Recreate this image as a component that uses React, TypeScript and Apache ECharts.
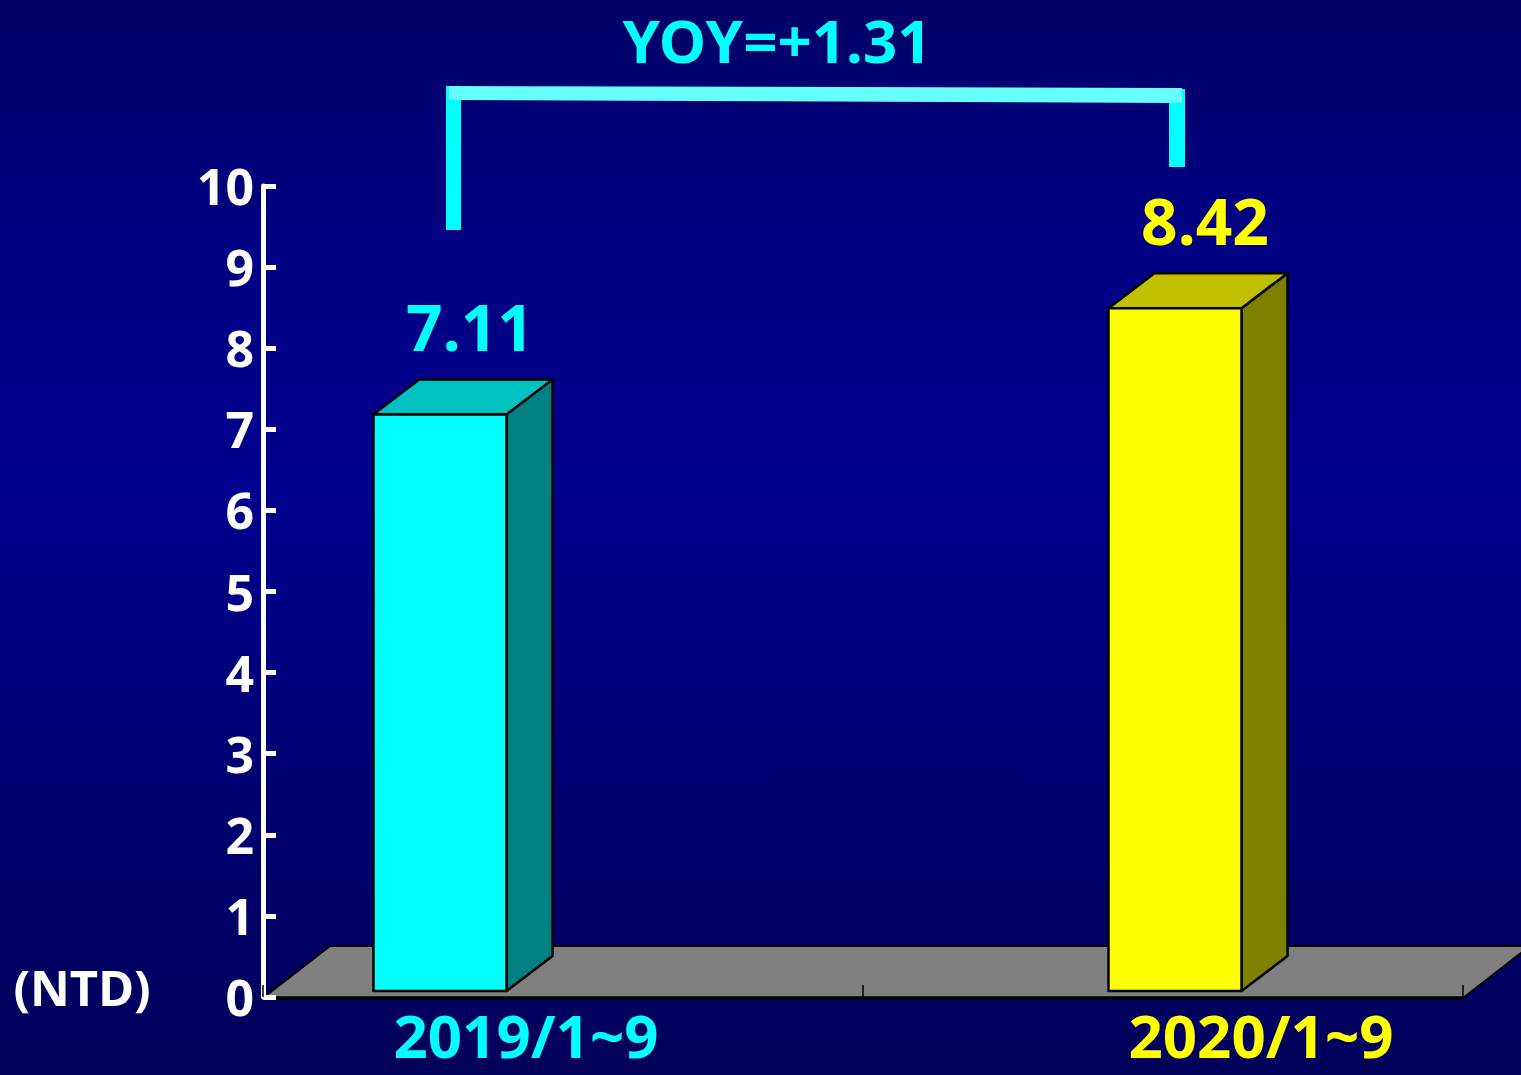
import React, { useEffect, useRef } from "react";
import * as echarts from "echarts";

// ---- data ----
const categories: string[] = ["2019/1~9", "2020/1~9"];
const values: number[] = [7.11, 8.42];
const yMin = 0;
const yMax = 10;
const yInterval = 1;
const unitLabel = "(NTD)";
const yoyLabel = "YOY=+" + (values[1] - values[0]).toFixed(2);

// ---- styles ----
const frontColors = ["#00FFFF", "#FFFF00"];
const topColors = ["#00C0C0", "#C0C000"];
const sideColors = ["#008080", "#808000"];
const labelColors = ["#00FFFF", "#FFFF00"];
const FONT = "'Noto Sans', 'DejaVu Sans', sans-serif";

const DX = 46; // 3D depth offset x
const DY = 35; // 3D depth offset y
const LIFT = 6; // bars set back from floor front edge
const FDX = 67; // floor depth
const FDY = 52;

export default function App() {
  const ref = useRef<HTMLDivElement>(null);

  useEffect(() => {
    document.body.style.margin = "0";
    if (!ref.current) return;
    const chart = echarts.init(ref.current, undefined, { renderer: "svg" });

    const bg = new echarts.graphic.LinearGradient(0, 0, 0, 1, [
      { offset: 0, color: "#000066" },
      { offset: 0.2, color: "#000080" },
      { offset: 0.45, color: "#00008F" },
      { offset: 0.75, color: "#000070" },
      { offset: 1, color: "#00005A" },
    ]);

    const option: any = {
      animation: false,
      backgroundColor: bg,
      grid: [
        { left: 263, top: 186, width: 1200, bottom: 78 },
        { left: 440, top: 186, width: 735, bottom: 78 },
      ],
      xAxis: [
        {
          type: "category",
          gridIndex: 0,
          data: categories,
          boundaryGap: true,
          z: 10,
          axisLine: { show: false },
          axisTick: { show: true, inside: true, length: 12, lineStyle: { color: "#000", width: 1.5 } },
          axisLabel: { show: false },
          splitLine: { show: false },
        },
        {
          type: "category",
          gridIndex: 1,
          data: categories,
          boundaryGap: false,
          show: false,
        },
      ],
      yAxis: [
        {
          type: "value",
          gridIndex: 0,
          min: yMin,
          max: yMax,
          interval: yInterval,
          z: 10,
          axisLine: { show: true, lineStyle: { color: "#FFFFFF", width: 5 } },
          axisTick: { show: true, inside: true, length: 13, lineStyle: { color: "#FFFFFF", width: 5 } },
          axisLabel: {
            color: "#FFFFFF",
            fontSize: 50,
            fontWeight: "bold",
            fontFamily: FONT,
            margin: 9,
          },
          splitLine: { show: false },
        },
        {
          type: "value",
          gridIndex: 1,
          min: yMin,
          max: yMax,
          interval: yInterval,
          show: false,
        },
      ],
      series: [
        {
          type: "custom",
          name: "floor",
          xAxisIndex: 0,
          yAxisIndex: 0,
          z: 2,
          data: [[0, 0]],
          renderItem: (params: any, api: any) => {
            const cs = params.coordSys;
            const y0 = api.coord([0, 0])[1] + 1;
            const x0 = cs.x;
            const w = cs.width;
            return {
              type: "group",
              children: [
                {
                  type: "polygon",
                  shape: {
                    points: [
                      [x0, y0],
                      [x0 + w, y0],
                      [x0 + w + FDX, y0 - FDY],
                      [x0 + FDX, y0 - FDY],
                    ],
                  },
                  style: { fill: "#808080", stroke: "#000", lineWidth: 2 },
                },
                {
                  type: "line",
                  shape: { x1: x0, y1: y0, x2: x0 + w, y2: y0 },
                  style: { stroke: "#000", lineWidth: 3.5 },
                },
              ],
            };
          },
        },
        {
          type: "custom",
          name: "bars",
          xAxisIndex: 1,
          yAxisIndex: 1,
          z: 5,
          encode: { x: 0, y: 1 },
          data: categories.map((c, i) => [i, values[i]]),
          renderItem: (params: any, api: any) => {
            const idx = api.value(0);
            const v = api.value(1);
            const top = api.coord([idx, v]);
            const base = api.coord([idx, 0]);
            const band = api.size([1, 0])[0];
            const hw = band * 0.0905;
            const cx = top[0];
            const yT = top[1] - LIFT;
            const yB = base[1] - LIFT;
            const xL = cx - hw;
            const xR = cx + hw;
            const edge = { stroke: "#000", lineWidth: 2.5, lineJoin: "round" };
            return {
              type: "group",
              children: [
                {
                  type: "polygon",
                  shape: { points: [[xR, yT], [xR + DX, yT - DY], [xR + DX, yB - DY], [xR, yB]] },
                  style: { ...edge, fill: sideColors[idx] },
                },
                {
                  type: "polygon",
                  shape: { points: [[xL, yT], [xL + DX, yT - DY], [xR + DX, yT - DY], [xR, yT]] },
                  style: { ...edge, fill: topColors[idx] },
                },
                {
                  type: "polygon",
                  shape: { points: [[xL, yT], [xR, yT], [xR, yB], [xL, yB]] },
                  style: { ...edge, fill: frontColors[idx] },
                },
                {
                  type: "text",
                  x: cx + 30,
                  y: yT - 88,
                  style: {
                    text: values[idx].toFixed(2),
                    fill: labelColors[idx],
                    fontSize: 64,
                    fontWeight: "bold",
                    fontFamily: FONT,
                    align: "center",
                    verticalAlign: "middle",
                  },
                },
                {
                  type: "text",
                  x: cx + 86,
                  y: base[1] + 38,
                  style: {
                    text: categories[idx],
                    fill: labelColors[idx],
                    fontSize: 60,
                    fontWeight: "bold",
                    fontFamily: FONT,
                    align: "center",
                    verticalAlign: "middle",
                  },
                },
              ],
            };
          },
        },
      ],
      graphic: [
        {
          type: "polygon",
          shape: { points: [[446, 86], [461, 86], [461, 230], [446, 230]] },
          style: { fill: "#00FFFF" },
          z: 20,
        },
        {
          type: "polygon",
          shape: { points: [[1169, 89], [1185, 89], [1185, 167], [1169, 167]] },
          style: { fill: "#00FFFF" },
          z: 20,
        },
        {
          type: "polygon",
          shape: { points: [[449, 86], [1182, 88], [1182, 103], [449, 100]] },
          style: { fill: "#66FFFF" },
          z: 21,
        },
        {
          type: "text",
          x: 777,
          y: 40,
          z: 20,
          style: {
            text: yoyLabel,
            fill: "#00FFFF",
            fontSize: 60,
            fontWeight: "bold",
            fontFamily: FONT,
            align: "center",
            verticalAlign: "middle",
          },
        },
        {
          type: "text",
          x: 82,
          y: 987,
          z: 20,
          style: {
            text: unitLabel,
            fill: "#FFFFFF",
            fontSize: 49,
            fontWeight: "bold",
            fontFamily: FONT,
            align: "center",
            verticalAlign: "middle",
          },
        },
      ],
    };

    chart.setOption(option);
    return () => chart.dispose();
  }, []);

  return <div ref={ref} style={{ width: 1521, height: 1075 }} />;
}
